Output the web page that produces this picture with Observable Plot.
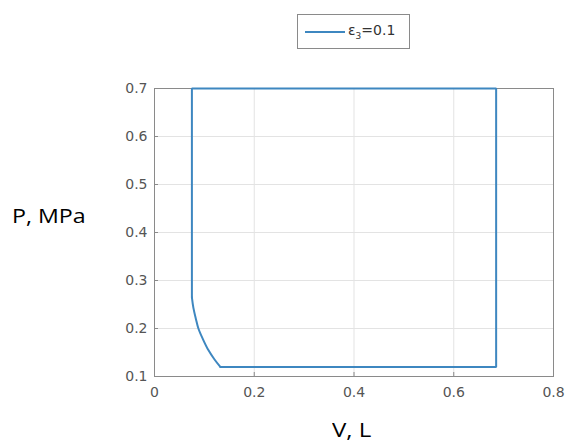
<!DOCTYPE html>
<html>
<head>
<meta charset="utf-8">
<script src="https://cdn.jsdelivr.net/npm/d3@7"></script>
<script src="https://cdn.jsdelivr.net/npm/@observablehq/plot@0.6"></script>
<style>
  html, body { margin: 0; padding: 0; background: #fff; }
  #wrap { position: relative; width: 570px; height: 442px; }
  .lbl { position: absolute; font-family: "Open Sans", sans-serif; font-size: 20px; line-height: 20px; color: #000; white-space: nowrap; transform-origin: left top; }
  #legend { position: absolute; left: 297px; top: 14px; width: 113px; height: 35px; border: 1px solid #8a8a8a; background: #fff; box-sizing: border-box; font-family: "DejaVu Sans", sans-serif; font-size: 14px; color: #333; }
  #legend .sw { position: absolute; left: 7px; top: 16px; width: 40px; height: 0; border-top: 2px solid #3e87c0; }
  #legend .tx { position: absolute; left: 50px; top: 7px; line-height: 16px; }
</style>
</head>
<body>
<div id="wrap">
  <div id="chart"></div>
  <div id="legend"><div class="sw"></div><div class="tx">ε<sub style="font-size:9px">3</sub>=0.1</div></div>
  <div class="lbl" id="ylab" style="left:12px; top:206px; transform: scaleX(1.16);">P, MPa</div>
  <div class="lbl" id="xlab" style="left:332px; top:420px; transform: scaleX(1.2);">V, L</div>
</div>
<script>
// Cycle contour (V in L, P in MPa)
// straight parts of the loop
const loopV = [0.132, 0.685, 0.685, 0.075, 0.075];
const loopP = [0.120, 0.120, 0.700, 0.700, 0.265];
// curved (expansion) part
const curveV = [0.075, 0.078, 0.083, 0.088, 0.097, 0.108, 0.120, 0.132];
const curveP = [0.265, 0.243, 0.220, 0.200, 0.178, 0.155, 0.136, 0.120];
const xTicks = [0, 0.2, 0.4, 0.6, 0.8];
const yTicks = [0.1, 0.2, 0.3, 0.4, 0.5, 0.6, 0.7];

const loopPts = loopV.map((v, i) => ({V: v, P: loopP[i]}));
const curvePts = curveV.map((v, i) => ({V: v, P: curveP[i]}));
const fmtX = d => d === 0 ? "0" : String(d);
const fmtY = d => d.toFixed(1);

const chart = Plot.plot({
  width: 570,
  height: 442,
  marginLeft: 154,
  marginRight: 17,
  marginTop: 88,
  marginBottom: 66,
  style: {fontFamily: "'DejaVu Sans', sans-serif", fontSize: "14px", color: "#555", background: "#fff"},
  x: {domain: [0, 0.8], ticks: xTicks, label: null, tickFormat: fmtX},
  y: {domain: [0.1, 0.7], ticks: yTicks, label: null, tickFormat: fmtY},
  marks: [
    Plot.gridX(xTicks, {stroke: "#e3e3e3", strokeOpacity: 1}),
    Plot.gridY(yTicks, {stroke: "#e3e3e3", strokeOpacity: 1}),
    Plot.frame({stroke: "#8a8a8a", strokeWidth: 1}),
    Plot.axisX(xTicks, {tickSize: -4, tickPadding: 15, stroke: "#8a8a8a", fill: "#555", tickFormat: fmtX}),
    Plot.axisY(yTicks, {tickSize: -4, tickPadding: 11, stroke: "#8a8a8a", fill: "#555", tickFormat: fmtY}),
    Plot.line(loopPts, {x: "V", y: "P", stroke: "#3e87c0", strokeWidth: 2, curve: "linear", strokeLinejoin: "miter"}),
    Plot.line(curvePts, {x: "V", y: "P", stroke: "#3e87c0", strokeWidth: 2, curve: "catmull-rom"})
  ]
});
document.getElementById("chart").appendChild(chart);
</script>
</body>
</html>
